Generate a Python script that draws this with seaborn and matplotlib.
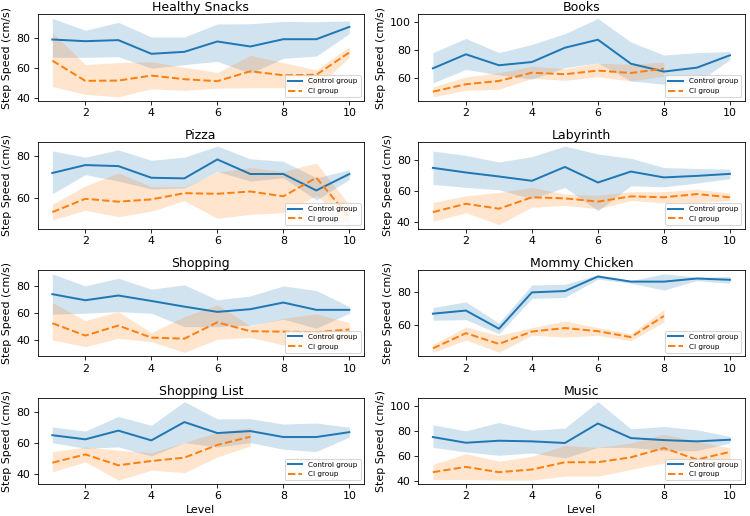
import matplotlib
matplotlib.use("Agg")
import matplotlib.pyplot as plt
from matplotlib.ticker import MultipleLocator
import seaborn as sns
import numpy as np

LEVELS = list(range(1, 11))
TITLES = ["Healthy Snacks", "Books", "Pizza", "Labyrinth",
          "Shopping", "Mommy Chicken", "Shopping List", "Music"]

# Control group: mean, lower CI, upper CI (per level)
CTRL_MEAN = [
    [78.7, 77.6, 78.3, 69.3, 70.6, 77.4, 74.1, 78.9, 78.9, 87.0],
    [66.7, 76.7, 68.9, 71.2, 81.4, 87.1, 70.0, 64.4, 67.2, 76.0],
    [71.8, 75.6, 75.1, 69.5, 69.2, 78.3, 71.3, 71.3, 63.4, 71.3],
    [75.1, 72.1, 69.5, 66.7, 75.7, 65.6, 72.7, 68.9, 69.9, 71.2],
    [74.1, 69.6, 73.1, 69.1, 64.9, 61.0, 63.0, 67.9, 62.5, 62.5],
    [67.1, 69.0, 58.0, 80.0, 80.8, 89.6, 86.5, 86.5, 88.4, 87.6],
    [65.1, 62.4, 68.1, 61.7, 73.7, 66.5, 67.8, 63.9, 63.9, 67.1],
    [75.0, 70.5, 72.1, 71.6, 70.3, 85.8, 74.2, 72.6, 71.6, 72.9],
]
CTRL_LO = [
    [67.0, 67.0, 67.4, 59.8, 62.2, 64.3, 56.5, 66.3, 67.8, 82.6],
    [56.3, 66.0, 62.0, 59.1, 67.2, 70.5, 57.7, 55.4, 56.5, 72.9],
    [61.8, 71.0, 67.9, 64.1, 64.6, 72.5, 67.9, 69.5, 58.8, 68.7],
    [64.4, 62.4, 60.9, 55.0, 62.4, 47.3, 63.5, 62.8, 65.2, 68.1],
    [59.3, 60.0, 61.2, 60.0, 50.1, 50.1, 51.1, 55.6, 48.9, 60.0],
    [63.1, 63.5, 54.9, 76.3, 76.9, 88.0, 85.5, 81.4, 87.1, 85.5],
    [60.2, 56.5, 57.4, 51.5, 60.2, 57.4, 60.2, 55.9, 54.4, 63.9],
    [66.8, 63.2, 60.5, 62.4, 58.4, 66.8, 66.8, 64.2, 64.2, 70.3],
]
CTRL_HI = [
    [92.6, 84.8, 90.0, 80.4, 80.4, 88.9, 89.1, 90.6, 90.4, 90.9],
    [77.9, 88.0, 77.9, 83.8, 91.4, 102.3, 85.5, 76.2, 77.9, 78.6],
    [82.4, 79.4, 82.9, 77.9, 79.4, 84.7, 78.6, 77.4, 69.5, 73.3],
    [86.0, 83.2, 78.9, 82.4, 89.2, 84.1, 81.3, 75.3, 74.7, 74.2],
    [89.1, 80.2, 85.9, 77.8, 81.0, 69.9, 72.8, 80.2, 76.8, 64.9],
    [70.8, 74.3, 61.4, 84.5, 84.9, 90.6, 87.1, 91.2, 89.2, 89.6],
    [70.5, 67.8, 77.4, 71.6, 87.1, 75.8, 75.9, 72.4, 73.1, 70.3],
    [84.7, 80.0, 86.6, 80.5, 82.1, 103.2, 81.6, 83.4, 80.8, 75.5],
]

# CI group: mean, lower CI, upper CI (some games stop before level 10)
CI_MEAN = [
    [64.8, 51.5, 51.7, 55.0, 52.6, 51.3, 57.8, 55.2, 55.5, 70.2],
    [50.1, 55.4, 57.7, 63.6, 62.5, 65.1, 63.4, 66.5],
    [53.0, 59.4, 58.0, 59.1, 62.1, 61.8, 62.9, 60.6, 69.5, 50.5],
    [46.4, 51.8, 48.6, 56.0, 55.3, 53.2, 56.6, 56.0, 58.1, 56.0],
    [52.6, 43.5, 50.9, 42.0, 41.2, 53.3, 46.7, 46.4, 46.0, 48.0],
    [46.1, 55.3, 48.8, 56.3, 58.4, 56.5, 52.9, 65.7],
    [47.1, 52.5, 45.4, 48.2, 50.4, 58.7, 64.1],
    [47.1, 51.3, 47.1, 49.2, 55.0, 55.0, 58.9, 66.3, 57.1, 63.2],
]
CI_LO = [
    [47.8, 42.6, 41.0, 46.3, 45.2, 46.7, 47.0, 47.0, 47.0, 67.0],
    [46.4, 51.1, 51.8, 59.6, 58.2, 60.6, 57.7, 61.3],
    [49.2, 53.9, 50.8, 53.4, 58.5, 50.0, 51.9, 52.7, 61.0, 47.0],
    [40.4, 46.0, 38.3, 49.6, 50.7, 48.6, 53.9, 52.4, 52.7, 53.9],
    [40.2, 35.3, 41.5, 39.0, 31.1, 40.7, 42.2, 36.5, 37.8, 39.0],
    [43.7, 51.2, 43.7, 54.1, 52.9, 53.9, 50.8, 62.0],
    [41.1, 47.6, 35.7, 42.2, 40.6, 50.8, 58.1],
    [41.3, 41.3, 40.8, 40.8, 43.9, 43.9, 49.2, 54.5, 51.8, 55.3],
]
CI_HI = [
    [83.3, 62.2, 63.5, 64.1, 60.4, 57.0, 68.3, 63.5, 58.7, 74.0],
    [53.5, 60.6, 63.6, 68.2, 66.5, 70.3, 69.6, 71.2],
    [56.8, 65.6, 71.8, 65.2, 65.2, 72.2, 74.4, 72.5, 76.6, 56.5],
    [52.7, 57.0, 59.1, 62.4, 58.1, 57.4, 59.6, 59.6, 61.3, 58.7],
    [67.9, 54.6, 61.2, 45.7, 57.5, 66.2, 50.6, 56.3, 59.5, 53.1],
    [48.4, 59.0, 53.9, 58.6, 62.7, 58.6, 54.9, 69.6],
    [54.3, 57.4, 55.2, 53.7, 60.2, 67.1, 70.0],
    [53.2, 61.8, 55.8, 59.7, 68.4, 66.8, 70.3, 77.4, 71.6, 66.3],
]

plt.rcParams["font.size"] = 10.5
plt.rcParams["axes.titlesize"] = 12

fig, axes = plt.subplots(4, 2, figsize=(10, 6.88), dpi=75)
fig.subplots_adjust(left=0.05, right=0.993, top=0.972, bottom=0.062,
                    wspace=0.165, hspace=0.48)

for i, ax in enumerate(axes.flat):
    xc = LEVELS[:len(CTRL_MEAN[i])]
    xi = LEVELS[:len(CI_MEAN[i])]
    ax.fill_between(xc, CTRL_LO[i], CTRL_HI[i], color="C0", alpha=0.2, linewidth=0)
    ax.fill_between(xi, CI_LO[i], CI_HI[i], color="C1", alpha=0.2, linewidth=0)
    sns.lineplot(x=xc, y=CTRL_MEAN[i], ax=ax, color="C0", linewidth=1.9,
                 label="Control group")
    sns.lineplot(x=xi, y=CI_MEAN[i], ax=ax, color="C1", linewidth=1.9,
                 linestyle="--", label="CI group")
    ax.set_title(TITLES[i], pad=2.5)
    ax.set_ylabel("Step Speed (cm/s)")
    ax.set_xticks([2, 4, 6, 8, 10])
    ax.yaxis.set_major_locator(MultipleLocator(20))
    ax.set_xlabel("Level" if i >= 6 else "")
    ax.legend(loc="lower right", fontsize=7)

plt.savefig("out.png", dpi=75)
